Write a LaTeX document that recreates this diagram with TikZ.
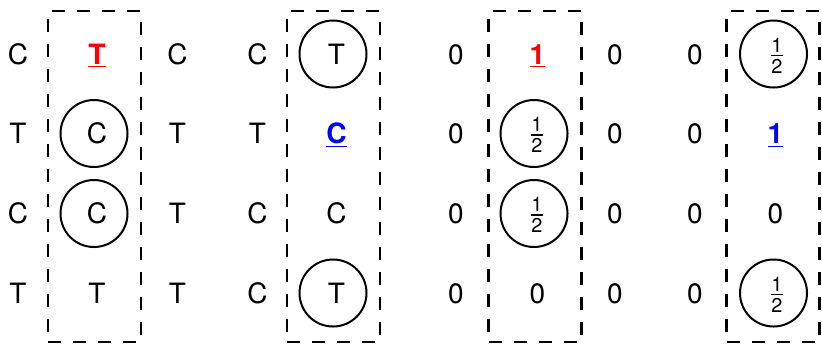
\documentclass[tikz,border=0pt]{standalone}
\usepackage{fontspec}
\setmainfont{TeX Gyre Heros}
\newcommand{\hf}{{\fontsize{10}{12}\selectfont\vbox{\offinterlineskip\halign{\kern0.2pt\hfil##\hfil\kern0.2pt\cr 1\cr\noalign{\kern1.4pt\hrule height0.55pt\kern1.4pt}2\cr}}}}
\begin{document}
\begin{tikzpicture}[x=0.5pt,y=-0.5pt,
  txt/.style={font=\fontsize{14}{16}\selectfont, inner sep=0pt, text height=10pt, text depth=0pt},
  redu/.style={txt, text=red},
  bluu/.style={txt, text=blue},
  frc/.style={inner sep=0pt},
  circ/.style={draw, circle, line width=1pt, minimum size=33.5pt, inner sep=0pt},
  dbox/.style={draw, line width=1.1pt, dash pattern=on 6.5pt off 6pt, minimum width=46.5pt, minimum height=165.5pt, inner sep=0pt}]
\useasboundingbox (0,0) rectangle (822,344);
% dashed boxes
\node[dbox] (b1) at (94.5,176.5) {};
\node[dbox] (b2) at (333.5,176.5) {};
\node[dbox] (b3) at (535,176.5) {};
\node[dbox] (b4) at (773,176.5) {};
% group 1
\node[txt] (g1l1) at (18,54) {C};
\node[txt] (g1l2) at (18,133.5) {T};
\node[txt] (g1l3) at (18,213.5) {C};
\node[txt] (g1l4) at (18,293) {T};
\node[redu] (g1m1) at (97,54) {\underline{\textbf{T}}};
\node[circ] (g1c2) at (94,133.5) {};
\node[txt] (g1m2) at (97,133.5) {C};
\node[circ] (g1c3) at (94,213.5) {};
\node[txt] (g1m3) at (97,213.5) {C};
\node[txt] (g1m4) at (97,293) {T};
\node[txt] (g1r1) at (177.5,54) {C};
\node[txt] (g1r2) at (177.5,133.5) {T};
\node[txt] (g1r3) at (177.5,213.5) {T};
\node[txt] (g1r4) at (177.5,293) {T};
% group 2
\node[txt] (g2l1) at (257.5,54) {C};
\node[txt] (g2l2) at (257.5,133.5) {T};
\node[txt] (g2l3) at (257.5,213.5) {C};
\node[txt] (g2l4) at (257.5,293) {C};
\node[circ] (g2c1) at (333,54) {};
\node[txt] (g2m1) at (336.5,54) {T};
\node[bluu] (g2m2) at (336.5,133.5) {\underline{\textbf{C}}};
\node[txt] (g2m3) at (336.5,213.5) {C};
\node[circ] (g2c4) at (333,293) {};
\node[txt] (g2m4) at (336.5,293) {T};
% group 3
\node[txt] (g3l1) at (456,54) {0};
\node[txt] (g3l2) at (456,133.5) {0};
\node[txt] (g3l3) at (456,213.5) {0};
\node[txt] (g3l4) at (456,293) {0};
\node[redu] (g3m1) at (537.5,54) {\underline{\textbf{1}}};
\node[circ] (g3c2) at (534,133.5) {};
\node[frc] (g3m2) at ([xshift=1.5pt,yshift=-0.75pt]g3c2.center) {\hf};
\node[circ] (g3c3) at (534,213.5) {};
\node[frc] (g3m3) at ([xshift=1.5pt,yshift=-0.75pt]g3c3.center) {\hf};
\node[txt] (g3m4) at (537.5,293) {0};
\node[txt] (g3r1) at (615,54) {0};
\node[txt] (g3r2) at (615,133.5) {0};
\node[txt] (g3r3) at (615,213.5) {0};
\node[txt] (g3r4) at (615,293) {0};
% group 4
\node[txt] (g4l1) at (695,54) {0};
\node[txt] (g4l2) at (695,133.5) {0};
\node[txt] (g4l3) at (695,213.5) {0};
\node[txt] (g4l4) at (695,293) {0};
\node[circ] (g4c1) at (773.5,54) {};
\node[frc] (g4m1) at ([xshift=1.75pt,yshift=-0.75pt]g4c1.center) {\hf};
\node[bluu] (g4m2) at (775.5,133.5) {\underline{\textbf{1}}};
\node[txt] (g4m3) at (775.5,213.5) {0};
\node[circ] (g4c4) at (773.5,293) {};
\node[frc] (g4m4) at ([xshift=1.75pt,yshift=-0.75pt]g4c4.center) {\hf};
\end{tikzpicture}
\end{document}
